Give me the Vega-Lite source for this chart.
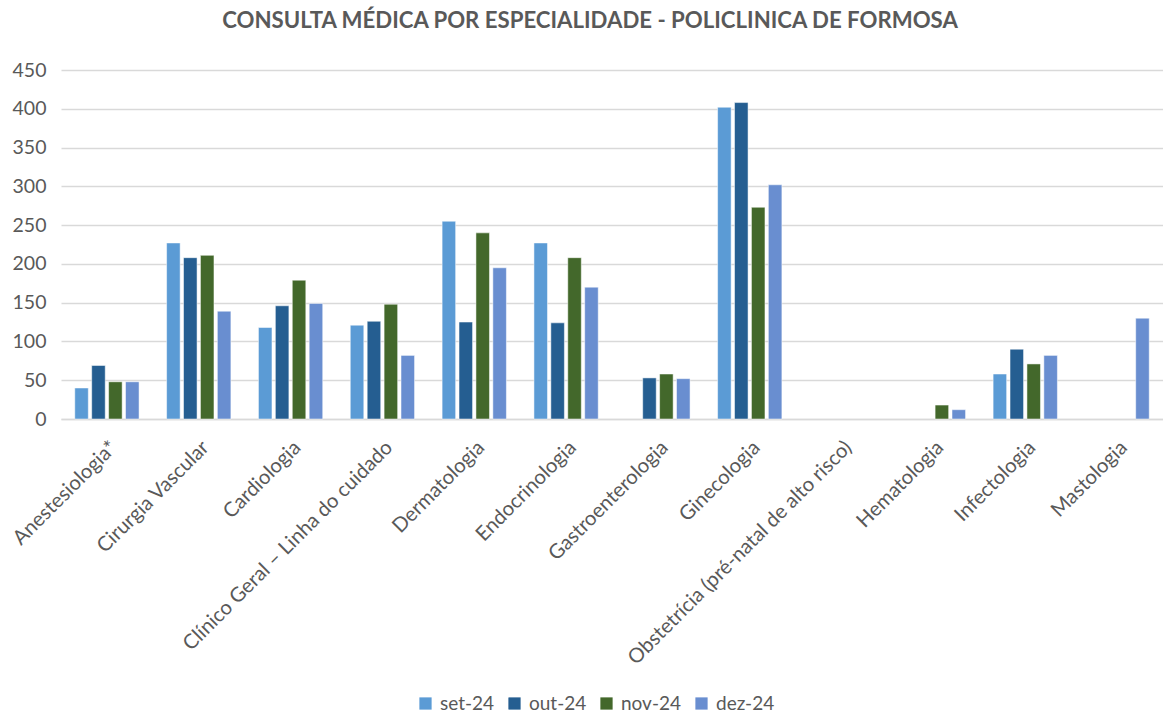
{
  "$schema": "https://vega.github.io/schema/vega-lite/v6.json",
  "autosize": "none",
  "padding": {"left": 61, "top": 70, "right": 0, "bottom": 295},
  "width": 1102,
  "height": 349,
  "background": "white",
  "config": {
    "font": "Lato",
    "view": {"stroke": null}
  },
  "title": {
    "text": "CONSULTA MÉDICA POR ESPECIALIDADE - POLICLINICA DE FORMOSA",
    "fontSize": 22.2,
    "fontWeight": "bold",
    "color": "#595959",
    "font": "Lato",
    "anchor": "middle",
    "dx": -22,
    "offset": 28
  },
  "data": {
    "values": [
      {"cat": "Anestesiologia*", "mes": "set-24", "v": 40},
      {"cat": "Anestesiologia*", "mes": "out-24", "v": 69},
      {"cat": "Anestesiologia*", "mes": "nov-24", "v": 48},
      {"cat": "Anestesiologia*", "mes": "dez-24", "v": 48},
      {"cat": "Cirurgia Vascular", "mes": "set-24", "v": 227},
      {"cat": "Cirurgia Vascular", "mes": "out-24", "v": 208},
      {"cat": "Cirurgia Vascular", "mes": "nov-24", "v": 211},
      {"cat": "Cirurgia Vascular", "mes": "dez-24", "v": 139},
      {"cat": "Cardiologia", "mes": "set-24", "v": 118},
      {"cat": "Cardiologia", "mes": "out-24", "v": 146},
      {"cat": "Cardiologia", "mes": "nov-24", "v": 179},
      {"cat": "Cardiologia", "mes": "dez-24", "v": 149},
      {"cat": "Clínico Geral – Linha do cuidado", "mes": "set-24", "v": 121},
      {"cat": "Clínico Geral – Linha do cuidado", "mes": "out-24", "v": 126},
      {"cat": "Clínico Geral – Linha do cuidado", "mes": "nov-24", "v": 148},
      {"cat": "Clínico Geral – Linha do cuidado", "mes": "dez-24", "v": 82},
      {"cat": "Dermatologia", "mes": "set-24", "v": 255},
      {"cat": "Dermatologia", "mes": "out-24", "v": 125},
      {"cat": "Dermatologia", "mes": "nov-24", "v": 240},
      {"cat": "Dermatologia", "mes": "dez-24", "v": 195},
      {"cat": "Endocrinologia", "mes": "set-24", "v": 227},
      {"cat": "Endocrinologia", "mes": "out-24", "v": 124},
      {"cat": "Endocrinologia", "mes": "nov-24", "v": 208},
      {"cat": "Endocrinologia", "mes": "dez-24", "v": 170},
      {"cat": "Gastroenterologia", "mes": "out-24", "v": 53},
      {"cat": "Gastroenterologia", "mes": "nov-24", "v": 58},
      {"cat": "Gastroenterologia", "mes": "dez-24", "v": 52},
      {"cat": "Ginecologia", "mes": "set-24", "v": 402},
      {"cat": "Ginecologia", "mes": "out-24", "v": 408},
      {"cat": "Ginecologia", "mes": "nov-24", "v": 273},
      {"cat": "Ginecologia", "mes": "dez-24", "v": 302},
      {"cat": "Hematologia", "mes": "nov-24", "v": 18},
      {"cat": "Hematologia", "mes": "dez-24", "v": 12},
      {"cat": "Infectologia", "mes": "set-24", "v": 58},
      {"cat": "Infectologia", "mes": "out-24", "v": 90},
      {"cat": "Infectologia", "mes": "nov-24", "v": 71},
      {"cat": "Infectologia", "mes": "dez-24", "v": 82},
      {"cat": "Mastologia", "mes": "dez-24", "v": 130}
    ]
  },
  "mark": {"type": "bar", "stroke": "white", "strokeWidth": 0.5},
  "encoding": {
    "x": {
      "field": "cat",
      "type": "nominal",
      "title": null,
      "scale": {
        "domain": ["Anestesiologia*", "Cirurgia Vascular", "Cardiologia", "Clínico Geral – Linha do cuidado", "Dermatologia", "Endocrinologia", "Gastroenterologia", "Ginecologia", "Obstetrícia (pré-natal de alto risco)", "Hematologia", "Infectologia", "Mastologia"],
        "paddingInner": 0.3,
        "paddingOuter": 0.15
      },
      "axis": {
        "labelAngle": -45,
        "labelAlign": "right",
        "labelBaseline": "top",
        "labelPadding": 18,
        "labelFontSize": 20.3,
        "labelColor": "#595959",
        "labelLimit": 500,
        "ticks": false,
        "domainColor": "#D9D9D9",
        "domainWidth": 1.5,
        "grid": false
      }
    },
    "xOffset": {
      "field": "mes",
      "type": "nominal",
      "scale": {"domain": ["set-24", "out-24", "nov-24", "dez-24"], "paddingInner": 0.2}
    },
    "y": {
      "field": "v",
      "type": "quantitative",
      "title": null,
      "scale": {"domain": [0, 450], "nice": false},
      "axis": {
        "values": [0, 50, 100, 150, 200, 250, 300, 350, 400, 450],
        "labelFontSize": 19.5,
        "labelColor": "#595959",
        "labelPadding": 15,
        "ticks": false,
        "domain": false,
        "gridColor": "#D9D9D9",
        "gridWidth": 1.5
      }
    },
    "color": {
      "field": "mes",
      "type": "nominal",
      "title": null,
      "scale": {
        "domain": ["set-24", "out-24", "nov-24", "dez-24"],
        "range": ["#5B9BD5", "#255E91", "#43682B", "#698ED0"]
      },
      "legend": {
        "orient": "none",
        "legendX": 355,
        "legendY": 624,
        "direction": "horizontal",
        "gridAlign": "none",
        "symbolType": "square",
        "symbolSize": 150,
        "symbolStrokeWidth": 0,
        "labelFontSize": 19,
        "labelColor": "#595959",
        "labelOffset": 5,
        "columnPadding": 10
      }
    }
  }
}
